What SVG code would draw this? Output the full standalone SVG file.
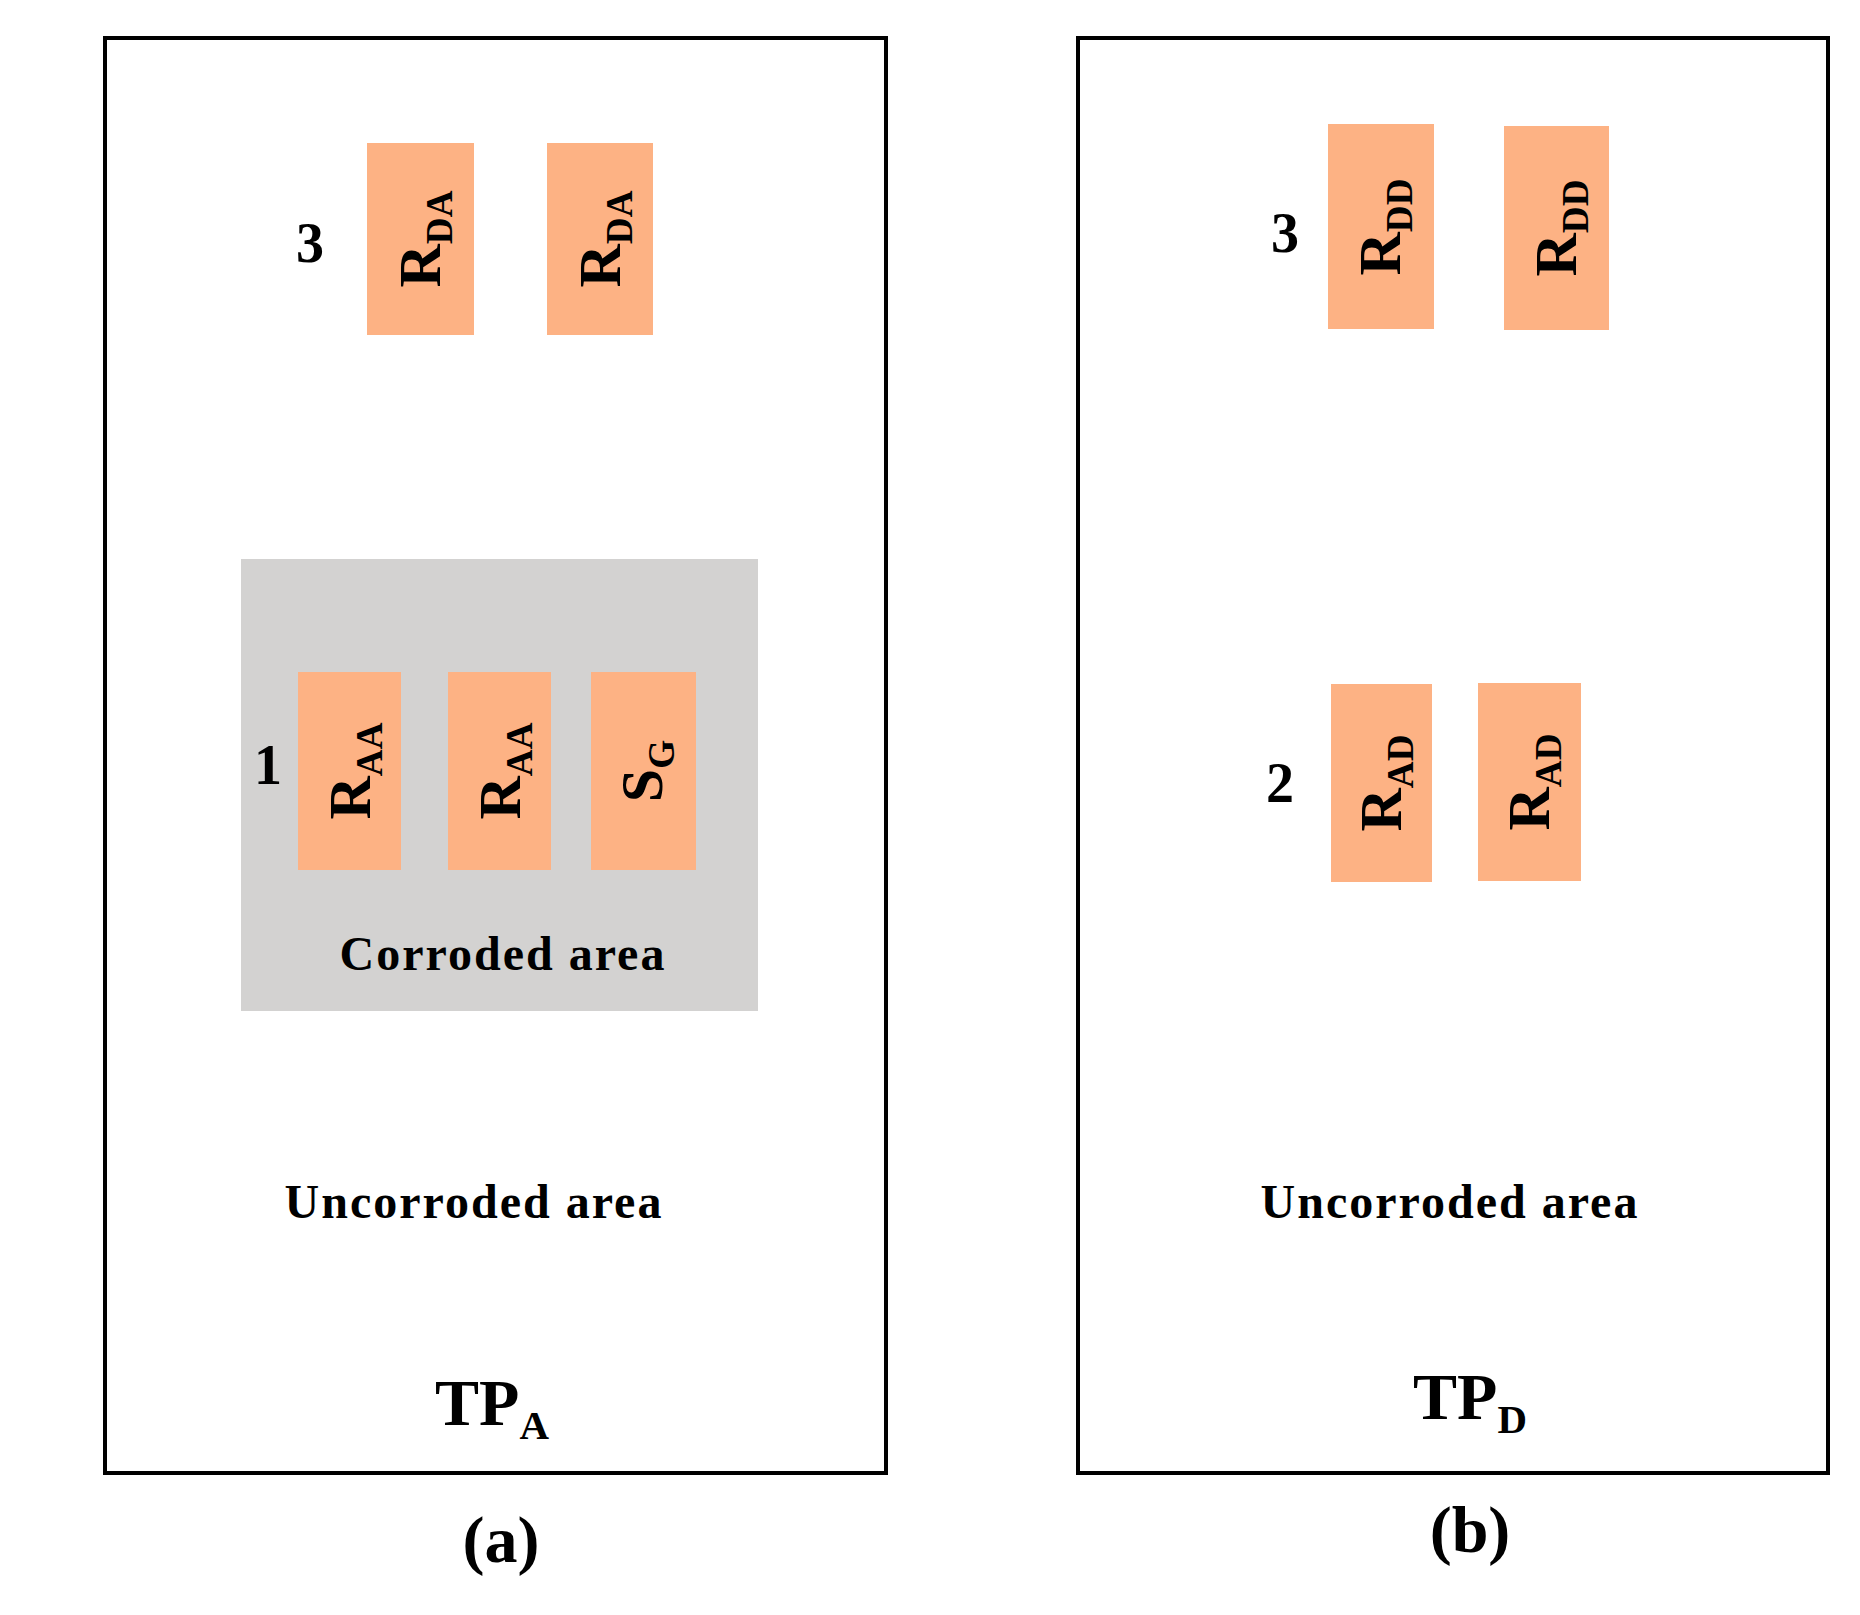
<svg xmlns="http://www.w3.org/2000/svg" width="1860" height="1615" viewBox="0 0 1860 1615">
<style>
.frame{fill:#fff;stroke:#000;stroke-width:4}
.pad{fill:#FDB284}
.t{font-family:"Liberation Serif",serif;font-weight:bold;fill:#000}
.lbl{font-size:60px;text-anchor:middle}
.num{font-size:56px;text-anchor:middle}
.area{font-size:48px;text-anchor:middle;letter-spacing:2px}
.tp{font-size:66px;text-anchor:middle}
.sub{font-size:0.62em}
</style>
<rect width="1860" height="1615" fill="#fff"/>
<g id="panelA">
<rect class="frame" x="105" y="38" width="781" height="1435"/>
<rect id="corroded" x="241" y="559" width="517" height="452" fill="#D3D2D1"/>
<g id="rda1"><rect class="pad" x="367" y="143" width="107" height="192"/><text class="t lbl" transform="translate(440,239) rotate(-90)">R<tspan class="sub" dy="12">DA</tspan></text></g>
<g id="rda2"><rect class="pad" x="547" y="143" width="106" height="192"/><text class="t lbl" transform="translate(620,239) rotate(-90)">R<tspan class="sub" dy="12">DA</tspan></text></g>
<text class="t num" x="310" y="262">3</text>
<g id="raa1"><rect class="pad" x="298" y="672" width="103" height="198"/><text class="t lbl" transform="translate(370,771) rotate(-90)">R<tspan class="sub" dy="12">AA</tspan></text></g>
<g id="raa2"><rect class="pad" x="448" y="672" width="103" height="198"/><text class="t lbl" transform="translate(520,771) rotate(-90)">R<tspan class="sub" dy="12">AA</tspan></text></g>
<g id="sg"><rect class="pad" x="591" y="672" width="105" height="198"/><text class="t lbl" transform="translate(662,771) rotate(-90)">S<tspan class="sub" dy="12">G</tspan></text></g>
<text class="t num" x="268" y="784">1</text>
<text class="t area" x="503" y="970">Corroded area</text>
<text class="t area" x="474" y="1218">Uncorroded area</text>
<text class="t tp" x="492" y="1425">TP<tspan class="sub" dy="14">A</tspan></text>
<text class="t tp" x="501" y="1562">(a)</text>
</g>
<g id="panelB">
<rect class="frame" x="1078" y="38" width="750" height="1435"/>
<g id="rdd1"><rect class="pad" x="1328" y="124" width="106" height="205"/><text class="t lbl" transform="translate(1400,227) rotate(-90)">R<tspan class="sub" dy="12">DD</tspan></text></g>
<g id="rdd2"><rect class="pad" x="1504" y="126" width="105" height="204"/><text class="t lbl" transform="translate(1576,228) rotate(-90)">R<tspan class="sub" dy="12">DD</tspan></text></g>
<text class="t num" x="1285" y="252">3</text>
<g id="rad1"><rect class="pad" x="1331" y="684" width="101" height="198"/><text class="t lbl" transform="translate(1401,783) rotate(-90)">R<tspan class="sub" dy="12">AD</tspan></text></g>
<g id="rad2"><rect class="pad" x="1478" y="683" width="103" height="198"/><text class="t lbl" transform="translate(1549,782) rotate(-90)">R<tspan class="sub" dy="12">AD</tspan></text></g>
<text class="t num" x="1280" y="802">2</text>
<text class="t area" x="1450" y="1218">Uncorroded area</text>
<text class="t tp" x="1470" y="1419">TP<tspan class="sub" dy="14">D</tspan></text>
<text class="t tp" x="1470" y="1552">(b)</text>
</g>
<g id="connectors"/>
</svg>
